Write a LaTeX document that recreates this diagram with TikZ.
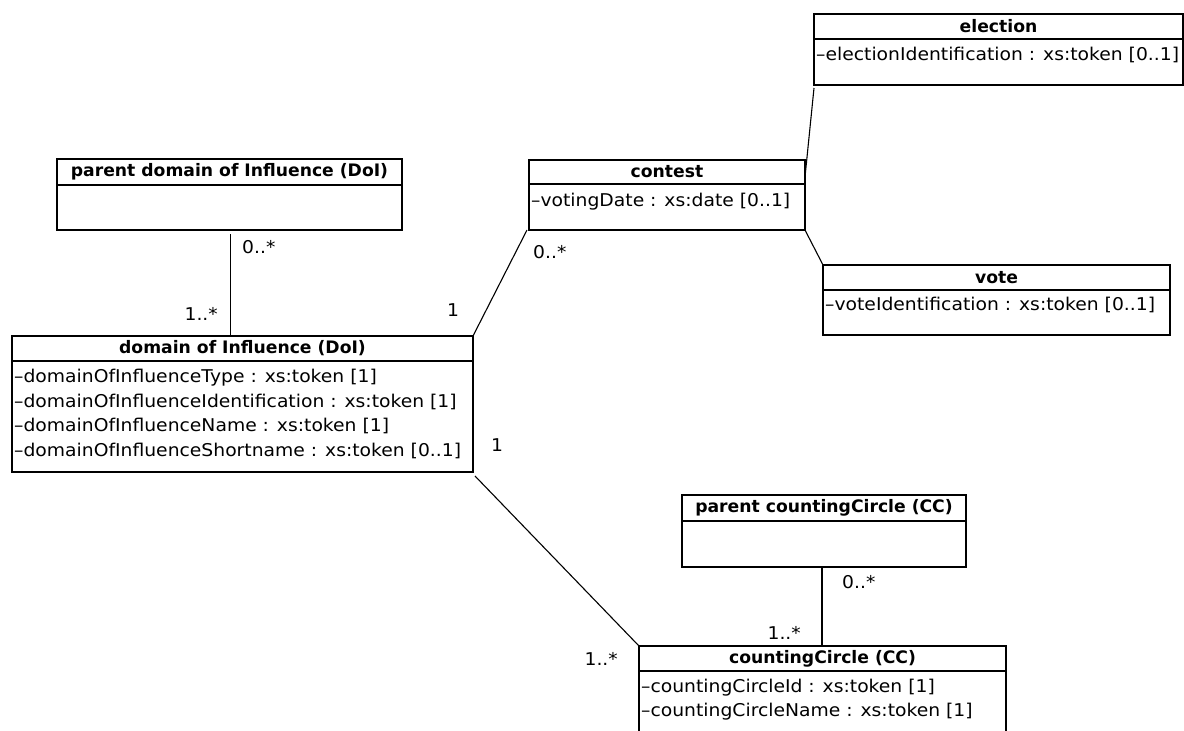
\documentclass[tikz,border=0pt]{standalone}
\usepackage{fontspec}
\setmainfont{DejaVu Sans}
\newfontfamily\attrfont[FakeStretch=1.065]{DejaVu Sans}
\begin{document}
\begin{tikzpicture}[x=1pt,y=-1pt,
  box/.style={draw,line width=1.1pt,anchor=north west,inner sep=0pt,outer sep=0pt},
  hdr/.style={box,font=\bfseries\fontsize{17.2}{20}\selectfont},
  attr/.style={anchor=west,inner sep=0pt,font=\attrfont\fontsize{17.6}{20}\selectfont},
  mult/.style={inner sep=0pt,font=\attrfont\fontsize{17.6}{20}\selectfont},
  assoc/.style={line width=1.1pt}]
\useasboundingbox (0,0) rectangle (1184,731);
\clip (0,0) rectangle (1184,731);
% parent DoI
\node[hdr,minimum width=345pt,minimum height=26pt] (pdoi) at (57,159) {parent domain of Influence (DoI)};
\node[box,minimum width=345pt,minimum height=45pt] (pdoib) at (57,185) {};
% DoI
\node[hdr,minimum width=461pt,minimum height=25pt] (doi) at (12,336) {domain of Influence (DoI)};
\node[box,minimum width=461pt,minimum height=111pt] (doib) at (12,361) {};
\node[attr] (doia1) at (14,378) {–domainOfInfluenceType : xs:token [1]};
\node[attr] (doia2) at (14,402) {–domainOfInfluenceIdentification : xs:token [1]};
\node[attr] (doia3) at (14,426) {–domainOfInfluenceName : xs:token [1]};
\node[attr] (doia4) at (14,451) {–domainOfInfluenceShortname : xs:token [0..1]};
% contest
\node[hdr,minimum width=276pt,minimum height=24pt] (contest) at (529,160) {contest};
\node[box,minimum width=276pt,minimum height=46pt] (contestb) at (529,184) {};
\node[attr] (contesta1) at (531,202) {–votingDate : xs:date [0..1]};
% election
\node[hdr,minimum width=369pt,minimum height=25pt] (election) at (814,14) {election};
\node[box,minimum width=369pt,minimum height=46pt] (electionb) at (814,39) {};
\node[attr] (electiona1) at (816,55) {–electionIdentification : xs:token [0..1]};
% vote
\node[hdr,minimum width=347pt,minimum height=25pt] (vote) at (823,265) {vote};
\node[box,minimum width=347pt,minimum height=45pt] (voteb) at (823,290) {};
\node[attr] (votea1) at (825,305) {–voteIdentification : xs:token [0..1]};
% parent CC
\node[hdr,minimum width=284pt,minimum height=26pt] (pcc) at (682,495) {parent countingCircle (CC)};
\node[box,minimum width=284pt,minimum height=46pt] (pccb) at (682,521) {};
% CC
\node[hdr,minimum width=367pt,minimum height=25pt] (cc) at (639,646) {countingCircle (CC)};
\node[box,minimum width=367pt,minimum height=90pt] (ccb) at (639,671) {};
\node[attr] (cca1) at (641,688) {–countingCircleId : xs:token [1]};
\node[attr] (cca2) at (641,712) {–countingCircleName : xs:token [1]};
% associations
\draw[assoc] ([xshift=1pt,yshift=-4pt]pdoib.south) -- ([xshift=1pt]pdoib.south |- doi.north);
\draw[assoc] ([xshift=-2pt]contestb.south west) -- (doi.north east);
\draw[assoc] ([yshift=-3pt]electionb.south west) -- ([yshift=7pt]contest.south east);
\draw[assoc] (contestb.south east) -- (vote.north west);
\draw[assoc] ([xshift=2pt,yshift=-4pt]doib.south east) -- (cc.north west);
\draw[assoc] ([xshift=-2pt,yshift=-1pt]pccb.south) -- ([xshift=-2pt]pccb.south |- cc.north);
% multiplicities
\node[mult,anchor=west] (m1) at (242,247) {0..*};
\node[mult,anchor=east] (m2) at (218,314) {1..*};
\node[mult] (m3) at (453,310) {1};
\node[mult,anchor=west] (m4) at (533,252) {0..*};
\node[mult] (m5) at (497,445) {1};
\node[mult,anchor=east] (m6) at (618,659) {1..*};
\node[mult,anchor=east] (m7) at (801,633) {1..*};
\node[mult,anchor=west] (m8) at (842,582) {0..*};
\end{tikzpicture}
\end{document}
